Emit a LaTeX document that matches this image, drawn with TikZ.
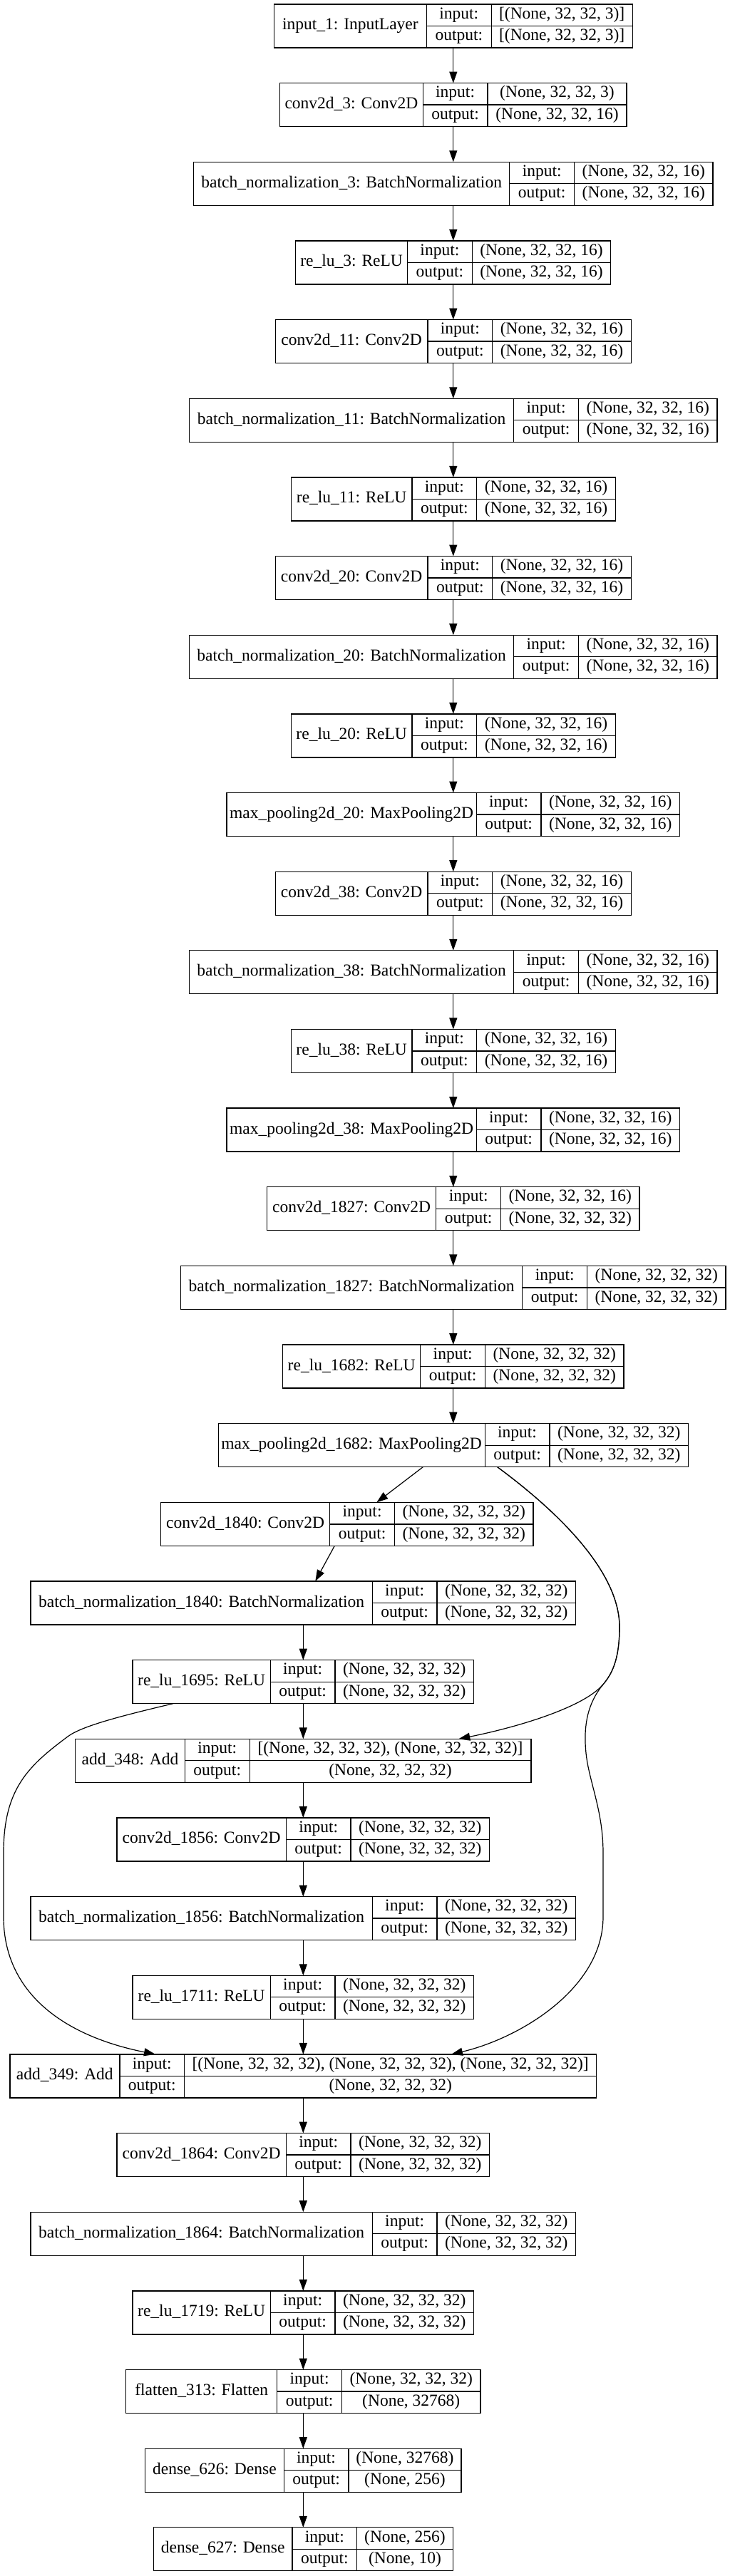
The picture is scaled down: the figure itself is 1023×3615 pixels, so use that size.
\documentclass[tikz,border=0pt]{standalone}
\usepackage{fontspec}
\setmainfont{Liberation Serif}
\usetikzlibrary{arrows.meta}
\newcommand\recfont{\fontsize{23.5}{28}\selectfont}
\tikzset{
  recbox/.style={draw=black, line width=1.3pt, inner sep=0pt, outer sep=0pt, rectangle},
  recline/.style={draw=black, line width=1.3pt},
  rectext/.style={font=\recfont, inner sep=0pt, outer sep=0pt, anchor=base},
  edge/.style={draw=black, line width=1.2pt, -{Triangle[length=16pt,width=11pt]}},
}
% #1 id, #2 centre x, #3 row, #4 name cell width, #5 value cell width, #6 name, #7 input, #8 output
\newcommand\kerasrec[8]{%
  \pgfmathsetmacro\krT{6+110.65*#3}%
  \pgfmathsetmacro\krW{#4+90.8+#5}%
  \pgfmathsetmacro\krL{#2-\krW/2}%
  \pgfmathsetmacro\krA{\krL+#4}%
  \pgfmathsetmacro\krB{\krA+90.8}%
  \pgfmathsetmacro\krR{\krL+\krW}%
  \pgfmathsetmacro\krD{\krT+61}%
  \pgfmathsetmacro\krM{\krT+30.5}%
  \node[recbox, minimum width=\krW pt, minimum height=61pt] (#1) at (#2,\krM) {};
  \draw[recline] (\krA,\krT) -- (\krA,\krD) (\krB,\krT) -- (\krB,\krD) (\krA,\krM) -- (\krR,\krM);
  \node[rectext] (#1-n) at ({(\krL+\krA)/2},{\krM+5.5}) {#6};
  \node[rectext] (#1-il) at ({(\krA+\krB)/2},{\krT+20.2}) {input:};
  \node[rectext] (#1-ol) at ({(\krA+\krB)/2},{\krM+20.2}) {output:};
  \node[rectext] (#1-iv) at ({(\krB+\krR)/2},{\krT+20.2}) {#7};
  \node[rectext] (#1-ov) at ({(\krB+\krR)/2},{\krM+20.2}) {#8};
}
\begin{document}
\begin{tikzpicture}[x=1pt,y=-1pt]
\useasboundingbox (0,0) rectangle (1023,3615);
\def\sa{(None, 32, 32, 16)}
\def\sb{(None, 32, 32, 32)}
\kerasrec{in1}{635.8}{0}{214}{198}{input\_1: InputLayer}{[(None, 32, 32, 3)]}{[(None, 32, 32, 3)]}
\kerasrec{c3}{635.8}{1}{200.6}{195}{conv2d\_3: Conv2D}{(None, 32, 32, 3)}{\sa}
\kerasrec{bn3}{635.8}{2}{443.3}{194.5}{batch\_normalization\_3: BatchNormalization}{\sa}{\sa}
\kerasrec{r3}{635.8}{3}{156.7}{194.5}{re\_lu\_3: ReLU}{\sa}{\sa}
\kerasrec{c11}{635.8}{4}{213.6}{194.5}{conv2d\_11: Conv2D}{\sa}{\sa}
\kerasrec{bn11}{635.8}{5}{455.1}{194.5}{batch\_normalization\_11: BatchNormalization}{\sa}{\sa}
\kerasrec{r11}{635.8}{6}{169.6}{194.5}{re\_lu\_11: ReLU}{\sa}{\sa}
\kerasrec{c20}{635.8}{7}{213.6}{194.5}{conv2d\_20: Conv2D}{\sa}{\sa}
\kerasrec{bn20}{635.8}{8}{455.1}{194.5}{batch\_normalization\_20: BatchNormalization}{\sa}{\sa}
\kerasrec{r20}{635.8}{9}{169.6}{194.5}{re\_lu\_20: ReLU}{\sa}{\sa}
\kerasrec{mp20}{635.8}{10}{350.1}{194.5}{max\_pooling2d\_20: MaxPooling2D}{\sa}{\sa}
\kerasrec{c38}{635.8}{11}{213.6}{194.5}{conv2d\_38: Conv2D}{\sa}{\sa}
\kerasrec{bn38}{635.8}{12}{455.1}{194.5}{batch\_normalization\_38: BatchNormalization}{\sa}{\sa}
\kerasrec{r38}{635.8}{13}{169.6}{194.5}{re\_lu\_38: ReLU}{\sa}{\sa}
\kerasrec{mp38}{635.8}{14}{350.1}{194.5}{max\_pooling2d\_38: MaxPooling2D}{\sa}{\sa}
\kerasrec{c1827}{635.8}{15}{237.3}{194.5}{conv2d\_1827: Conv2D}{\sa}{\sb}
\kerasrec{bn1827}{635.8}{16}{479.3}{194.5}{batch\_normalization\_1827: BatchNormalization}{\sb}{\sb}
\kerasrec{r1682}{635.8}{17}{193.2}{194.5}{re\_lu\_1682: ReLU}{\sb}{\sb}
\kerasrec{mp1682}{635.8}{18}{374}{194.5}{max\_pooling2d\_1682: MaxPooling2D}{\sb}{\sb}
\kerasrec{c1840}{486.7}{19}{237.3}{194.5}{conv2d\_1840: Conv2D}{\sb}{\sb}
\kerasrec{bn1840}{425.3}{20}{479.2}{194.5}{batch\_normalization\_1840: BatchNormalization}{\sb}{\sb}
\kerasrec{r1695}{425.3}{21}{193.2}{194.5}{re\_lu\_1695: ReLU}{\sb}{\sb}
\kerasrec{add348}{425.3}{22}{153.6}{394.7}{add\_348: Add}{[(None, 32, 32, 32), (None, 32, 32, 32)]}{\sb}
\kerasrec{c1856}{425.3}{23}{237.3}{194.5}{conv2d\_1856: Conv2D}{\sb}{\sb}
\kerasrec{bn1856}{425.3}{24}{479.2}{194.5}{batch\_normalization\_1856: BatchNormalization}{\sb}{\sb}
\kerasrec{r1711}{425.3}{25}{193.2}{194.5}{re\_lu\_1711: ReLU}{\sb}{\sb}
\kerasrec{add349}{425.3}{26}{154}{578.1}{add\_349: Add}{[(None, 32, 32, 32), (None, 32, 32, 32), (None, 32, 32, 32)]}{\sb}
\kerasrec{c1864}{425.3}{27}{237.3}{194.5}{conv2d\_1864: Conv2D}{\sb}{\sb}
\kerasrec{bn1864}{425.3}{28}{479.2}{194.5}{batch\_normalization\_1864: BatchNormalization}{\sb}{\sb}
\kerasrec{r1719}{425.3}{29}{193.2}{194.5}{re\_lu\_1719: ReLU}{\sb}{\sb}
\kerasrec{fl313}{425.3}{30}{212.1}{194.5}{flatten\_313: Flatten}{\sb}{(None, 32768)}
\kerasrec{d626}{425.3}{31}{194.5}{158}{dense\_626: Dense}{(None, 32768)}{(None, 256)}
\kerasrec{d627}{425.3}{32}{194.5}{134.4}{dense\_627: Dense}{(None, 256)}{(None, 10)}
% straight chain
\foreach \a/\b in {in1/c3, c3/bn3, bn3/r3, r3/c11, c11/bn11, bn11/r11, r11/c20, c20/bn20, bn20/r20, r20/mp20, mp20/c38, c38/bn38, bn38/r38, r38/mp38, mp38/c1827, c1827/bn1827, bn1827/r1682, r1682/mp1682, bn1840/r1695, r1695/add348, add348/c1856, c1856/bn1856, bn1856/r1711, r1711/add349, add349/c1864, c1864/bn1864, bn1864/r1719, r1719/fl313, fl313/d626, d626/d627}
  \draw[edge] (\a.south) -- (\b.north);
% branch edges
\draw[edge] ([xshift=-42.5pt]mp1682.south) -- ([xshift=41.6pt]c1840.north);
\draw[edge] ([xshift=-17.4pt]c1840.south) -- ([xshift=17pt]bn1840.north);
\draw[edge] ([xshift=61.9pt]mp1682.south) .. controls (770,2112) and (869,2200) .. (869,2283)
  .. controls (869,2330) and (858,2350) .. (845,2365)
  .. controls (815,2398) and (720,2425) .. ([xshift=218pt]add348.north);
\draw[edge] ([xshift=61.9pt]mp1682.south) .. controls (770,2112) and (869,2200) .. (869,2283)
  .. controls (869,2330) and (858,2350) .. (845,2365)
  .. controls (825,2390) and (818,2420) .. (822,2460)
  .. controls (826,2500) and (846,2540) .. (846,2600) -- (846,2690)
  .. controls (846,2790) and (730,2860) .. ([xshift=207.7pt]add349.north);
\draw[edge] ([xshift=-182.3pt]r1695.south) .. controls (170,2408) and (115,2422) .. (95,2437)
  .. controls (40,2478) and (5,2510) .. (5,2600) -- (5,2690)
  .. controls (5,2790) and (80,2855) .. ([xshift=-207.3pt]add349.north);
\end{tikzpicture}
\end{document}
